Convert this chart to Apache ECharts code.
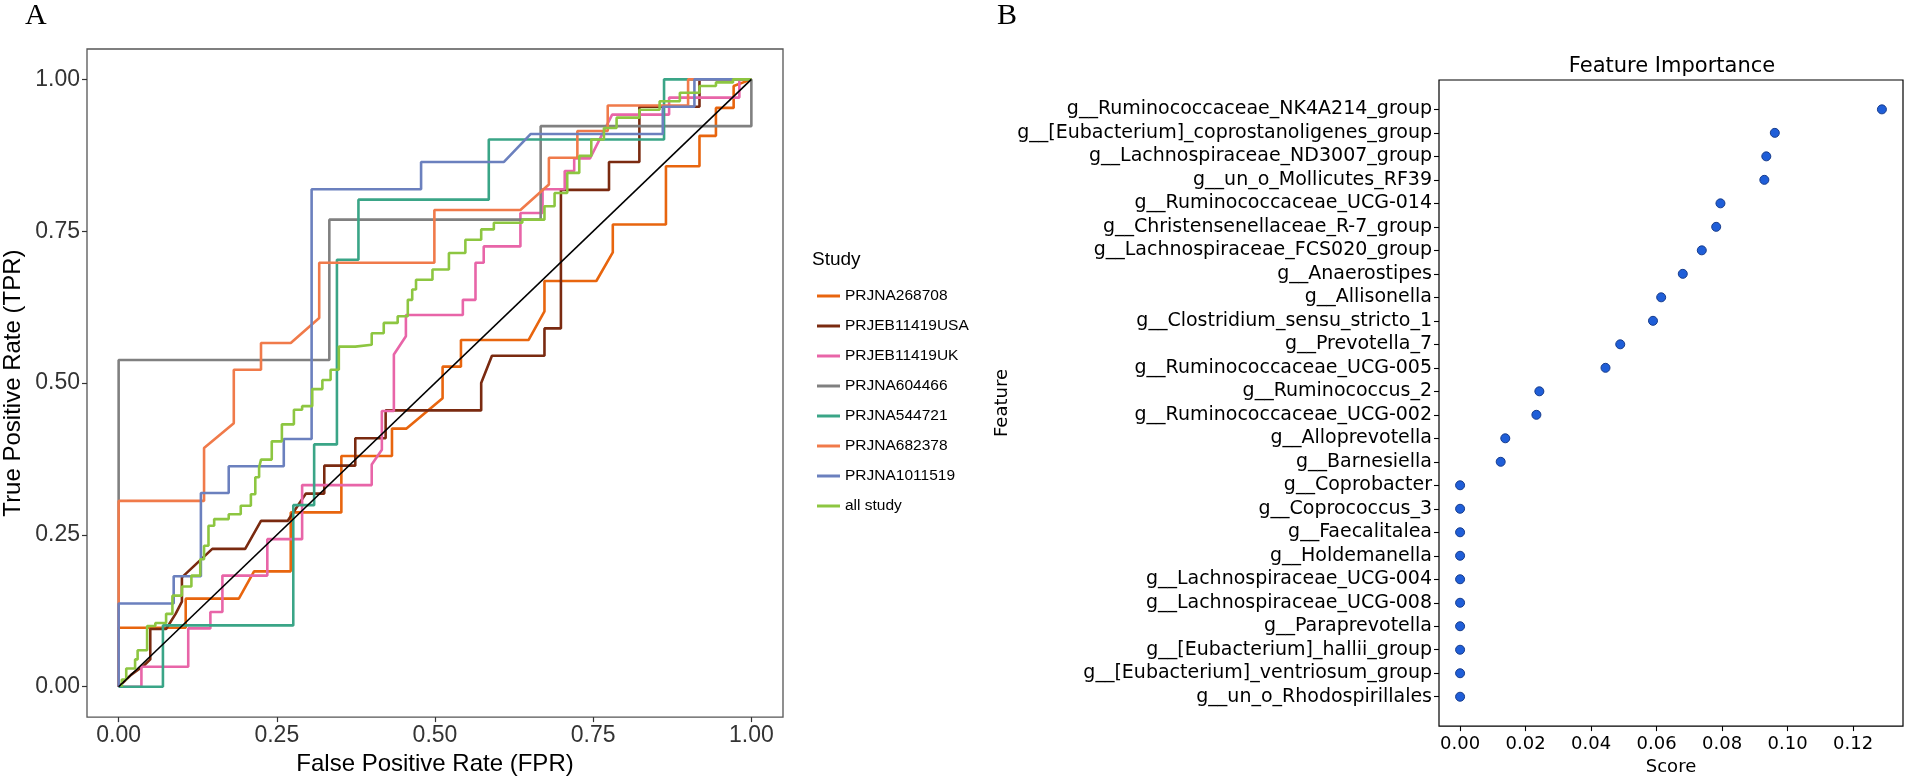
<!DOCTYPE html>
<html>
<head>
<meta charset="utf-8">
<script src="https://cdn.jsdelivr.net/npm/echarts@6/dist/echarts.min.js"></script>
<style>
html,body{margin:0;padding:0;background:#fff;}
#chart{width:1908px;height:781px;}
</style>
</head>
<body>
<div id="chart"></div>
<script>
// ---------- Panel A: ROC curves ----------
const studies = ['PRJNA268708','PRJEB11419USA','PRJEB11419UK','PRJNA604466','PRJNA544721','PRJNA682378','PRJNA1011519','all study'];
const studyColors = ['#E8650E','#7A2A10','#E865A8','#808080','#3AA587','#F07A4A','#6B80BE','#8DC641'];
const rocTicks = [0, 0.25, 0.5, 0.75, 1];

const roc_PRJNA268708 = [[0,0],[0,0.097],[0.106,0.097],[0.106,0.145],[0.19,0.145],[0.214,0.19],[0.272,0.19],[0.272,0.287],[0.352,0.287],[0.352,0.38],[0.432,0.38],[0.432,0.425],[0.455,0.425],[0.512,0.475],[0.512,0.527],[0.541,0.527],[0.541,0.571],[0.648,0.571],[0.673,0.618],[0.673,0.668],[0.755,0.668],[0.781,0.715],[0.781,0.761],[0.865,0.761],[0.865,0.857],[0.918,0.857],[0.918,0.907],[0.944,0.907],[0.944,0.953],[0.972,0.953],[0.972,0.989],[1,1]];
const roc_PRJEB11419USA = [[0,0],[0.02,0.02],[0.04,0.035],[0.05,0.045],[0.05,0.095],[0.075,0.095],[0.09,0.12],[0.1,0.14],[0.1,0.18],[0.148,0.227],[0.2,0.227],[0.225,0.273],[0.267,0.273],[0.296,0.318],[0.325,0.318],[0.325,0.364],[0.374,0.364],[0.374,0.409],[0.422,0.409],[0.422,0.455],[0.573,0.455],[0.573,0.5],[0.59,0.545],[0.673,0.545],[0.673,0.59],[0.699,0.59],[0.699,0.818],[0.775,0.818],[0.775,0.864],[0.823,0.864],[0.823,0.955],[0.918,0.955],[0.918,1],[1,1]];
const roc_PRJEB11419UK = [[0,0],[0.036,0],[0.036,0.033],[0.11,0.033],[0.11,0.096],[0.145,0.096],[0.145,0.123],[0.164,0.123],[0.164,0.183],[0.235,0.183],[0.235,0.243],[0.29,0.243],[0.29,0.332],[0.40,0.332],[0.40,0.366],[0.416,0.39],[0.416,0.454],[0.435,0.454],[0.435,0.547],[0.454,0.577],[0.454,0.612],[0.544,0.612],[0.544,0.637],[0.564,0.637],[0.564,0.698],[0.577,0.698],[0.577,0.725],[0.635,0.725],[0.635,0.78],[0.67,0.78],[0.67,0.819],[0.705,0.819],[0.705,0.849],[0.72,0.849],[0.72,0.87],[0.745,0.87],[0.78,0.942],[0.87,0.942],[0.87,0.97],[0.981,0.97],[0.981,1],[1,1]];
const roc_PRJNA604466 = [[0,0],[0,0.538],[0.333,0.538],[0.333,0.769],[0.667,0.769],[0.667,0.923],[1,0.923],[1,1]];
const roc_PRJNA544721 = [[0,0],[0.07,0],[0.07,0.101],[0.276,0.101],[0.276,0.299],[0.309,0.299],[0.309,0.399],[0.345,0.399],[0.345,0.703],[0.379,0.703],[0.379,0.802],[0.585,0.802],[0.585,0.901],[0.862,0.901],[0.862,1],[1,1]];
const roc_PRJNA682378 = [[0,0],[0,0.306],[0.135,0.306],[0.135,0.393],[0.182,0.434],[0.182,0.522],[0.225,0.522],[0.225,0.566],[0.272,0.566],[0.317,0.607],[0.317,0.698],[0.499,0.698],[0.499,0.785],[0.635,0.785],[0.68,0.827],[0.68,0.871],[0.725,0.871],[0.725,0.915],[0.773,0.915],[0.773,0.957],[0.9,0.957],[0.9,1],[1,1]];
const roc_PRJNA1011519 = [[0,0],[0,0.137],[0.087,0.137],[0.087,0.182],[0.13,0.182],[0.13,0.319],[0.174,0.319],[0.174,0.363],[0.261,0.363],[0.261,0.408],[0.305,0.408],[0.305,0.819],[0.478,0.819],[0.478,0.864],[0.609,0.864],[0.651,0.91],[0.86,0.91],[0.86,0.955],[0.91,0.955],[0.91,1],[1,1]];
const roc_allStudy = [[0.005,0],[0.012,0.012],[0.026,0.03],[0.03,0.045],[0.045,0.06],[0.058,0.1],[0.075,0.105],[0.085,0.12],[0.1,0.15],[0.115,0.165],[0.129,0.183],[0.135,0.21],[0.142,0.232],[0.151,0.265],[0.174,0.276],[0.193,0.284],[0.209,0.298],[0.216,0.317],[0.222,0.345],[0.225,0.361],[0.242,0.374],[0.258,0.404],[0.277,0.432],[0.29,0.456],[0.306,0.462],[0.322,0.49],[0.335,0.505],[0.348,0.522],[0.374,0.56],[0.4,0.563],[0.419,0.582],[0.441,0.599],[0.457,0.61],[0.464,0.637],[0.47,0.654],[0.496,0.67],[0.522,0.687],[0.548,0.714],[0.573,0.736],[0.593,0.753],[0.638,0.764],[0.673,0.769],[0.689,0.791],[0.709,0.813],[0.728,0.846],[0.747,0.874],[0.767,0.901],[0.787,0.92],[0.823,0.937],[0.855,0.95],[0.887,0.964],[0.918,0.978],[0.944,0.989],[0.971,0.995],[1,1]];
const diagonal = [[0,0],[1,1]];

const rocCurves = [roc_PRJNA268708, roc_PRJEB11419USA, roc_PRJEB11419UK, roc_PRJNA604466, roc_PRJNA544721, roc_PRJNA682378, roc_PRJNA1011519, roc_allStudy];

// ---------- Panel B: Feature importance ----------
const features = ['g__Ruminococcaceae_NK4A214_group','g__[Eubacterium]_coprostanoligenes_group','g__Lachnospiraceae_ND3007_group','g__un_o_Mollicutes_RF39','g__Ruminococcaceae_UCG-014','g__Christensenellaceae_R-7_group','g__Lachnospiraceae_FCS020_group','g__Anaerostipes','g__Allisonella','g__Clostridium_sensu_stricto_1','g__Prevotella_7','g__Ruminococcaceae_UCG-005','g__Ruminococcus_2','g__Ruminococcaceae_UCG-002','g__Alloprevotella','g__Barnesiella','g__Coprobacter','g__Coprococcus_3','g__Faecalitalea','g__Holdemanella','g__Lachnospiraceae_UCG-004','g__Lachnospiraceae_UCG-008','g__Paraprevotella','g__[Eubacterium]_hallii_group','g__[Eubacterium]_ventriosum_group','g__un_o_Rhodospirillales'];
const scores = [0.1288,0.0961,0.0935,0.0929,0.0795,0.0782,0.0738,0.0680,0.0614,0.0589,0.0489,0.0444,0.0242,0.0233,0.0138,0.0124,0,0,0,0,0,0,0,0,0,0];
const scoreTicks = [0,0.02,0.04,0.06,0.08,0.10,0.12];

// matplotlib-style 5% margins
const sMin = Math.min(...scores), sMax = Math.max(...scores);
const sPad = 0.05*(sMax - sMin);
const yPad = 0.05*(features.length - 1);
const featureIdx = features.map((f,i)=>i);

const LS = 'Liberation Sans, Arial, sans-serif';
const DJ = 'DejaVu Sans, sans-serif';

const series = rocCurves.map((d,i)=>({
  name: studies[i], type:'line', xAxisIndex:0, yAxisIndex:0,
  data: d, symbol:'none', showSymbol:false,
  step: i===7 ? 'start' : false,
  lineStyle:{color:studyColors[i], width:2.6},
  itemStyle:{color:studyColors[i]},
  z: 2 + i
}));
series.push({
  name:'diagonal', type:'line', xAxisIndex:0, yAxisIndex:0, data: diagonal,
  symbol:'none', lineStyle:{color:'#000', width:1.6}, z: 20
});
series.push({
  name:'importance', type:'scatter', xAxisIndex:1, yAxisIndex:1,
  data: scores.map((s,i)=>[s, featureIdx[i]]),
  symbolSize: 9,
  itemStyle:{color:'#1f5ed8', borderColor:'#173c8c', borderWidth:1, opacity:1},
  z: 5
});

const option = {
  animation:false,
  backgroundColor:'#fff',
  title:[{
    text:'Feature Importance', left:1672, top:56, textAlign:'center', padding:0,
    textStyle:{fontSize:21, fontWeight:'normal', fontFamily:DJ, color:'#000'}
  }],
  graphic:[
    {type:'text', left:25, top:1, style:{text:'A', fontSize:30, fontFamily:'Liberation Serif, Times New Roman, serif', fill:'#000'}},
    {type:'text', left:997, top:1, style:{text:'B', fontSize:30, fontFamily:'Liberation Serif, Times New Roman, serif', fill:'#000'}},
    {type:'text', left:812, top:250, style:{text:'Study', fontSize:19, fontFamily:LS, fill:'#000'}}
  ],
  legend:{
    data: studies, orient:'vertical', left:812, top:282,
    itemWidth:23, itemHeight:3, itemGap:12, icon:'rect',
    textStyle:{fontSize:15.5, fontFamily:LS, color:'#000', lineHeight:18, padding:[0,0,0,0]},
    selectedMode:false
  },
  grid:[
    {left:86, top:49, width:697, height:669, show:true, borderColor:'#555', borderWidth:1.3, backgroundColor:'transparent'},
    {left:1439, top:80, width:464, height:650, show:true, borderColor:'#000', borderWidth:1.2, backgroundColor:'transparent'}
  ],
  xAxis:[
    {gridIndex:0, type:'value', min:-0.05, max:1.05, position:'bottom',
     axisLine:{show:false, onZero:false},
     axisTick:{show:true, length:5, lineStyle:{color:'#333', width:1.2}, customValues:rocTicks},
     axisLabel:{customValues:rocTicks, formatter:v=>Number(v).toFixed(2), fontSize:23, color:'#333', fontFamily:LS, margin:7},
     splitLine:{show:false},
     name:'False Positive Rate (FPR)', nameLocation:'middle', nameGap:30,
     nameTextStyle:{fontSize:24, color:'#000', fontFamily:LS}},
    {gridIndex:1, type:'value', min:sMin - sPad, max:sMax + sPad, position:'bottom',
     axisLine:{show:false, onZero:false},
     axisTick:{show:true, length:5, lineStyle:{color:'#000', width:1.1}, customValues:scoreTicks},
     axisLabel:{customValues:scoreTicks, formatter:v=>Number(v).toFixed(2), fontSize:18, color:'#000', fontFamily:DJ, margin:9},
     splitLine:{show:false},
     name:'Score', nameLocation:'middle', nameGap:28,
     nameTextStyle:{fontSize:18, color:'#000', fontFamily:DJ}}
  ],
  yAxis:[
    {gridIndex:0, type:'value', min:-0.05, max:1.05, position:'left',
     axisLine:{show:false, onZero:false},
     axisTick:{show:true, length:5, lineStyle:{color:'#333', width:1.2}, customValues:rocTicks},
     axisLabel:{customValues:rocTicks, formatter:v=>Number(v).toFixed(2), fontSize:23, color:'#333', fontFamily:LS, margin:7},
     splitLine:{show:false},
     name:'True Positive Rate (TPR)', nameLocation:'middle', nameGap:62, nameRotate:90,
     nameTextStyle:{fontSize:24, color:'#000', fontFamily:LS}},
    {gridIndex:1, type:'value', inverse:true, min:-yPad, max:features.length - 1 + yPad, position:'left',
     axisLine:{show:false, onZero:false},
     axisTick:{show:true, length:5, lineStyle:{color:'#000', width:1.1}, customValues:featureIdx},
     axisLabel:{customValues:featureIdx, formatter:v=>features[Math.round(v)] || '', fontSize:19, color:'#000', fontFamily:DJ, margin:7},
     splitLine:{show:false},
     name:'Feature', nameLocation:'middle', nameGap:428, nameRotate:90,
     nameTextStyle:{fontSize:18, color:'#000', fontFamily:DJ}}
  ],
  series: series
};

const chart = echarts.init(document.getElementById('chart'), null, {renderer:'canvas'});
chart.setOption(option);
</script>
</body>
</html>
